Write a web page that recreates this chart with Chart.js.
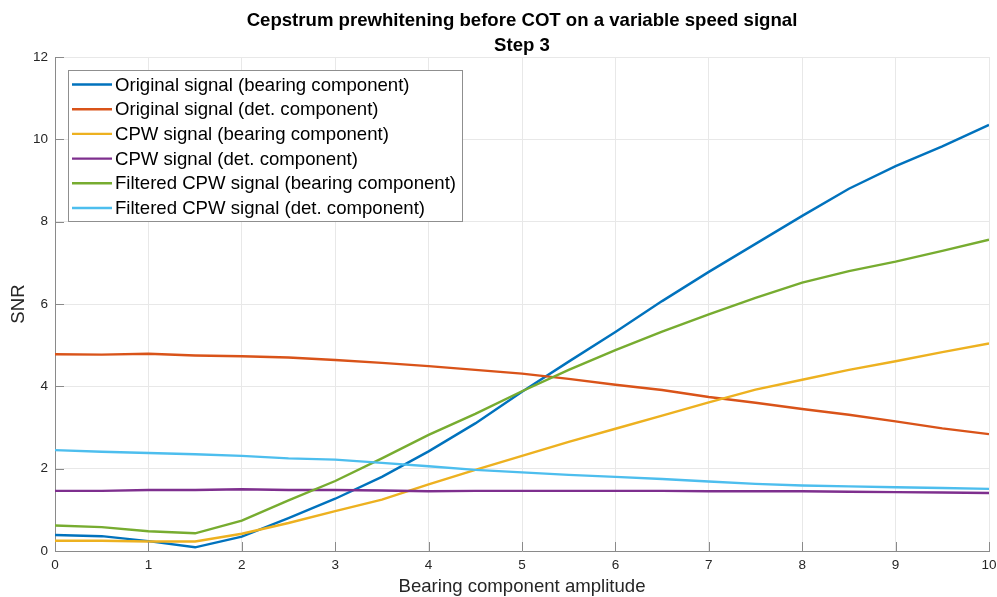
<!DOCTYPE html>
<html>
<head>
<meta charset="utf-8">
<title>Cepstrum prewhitening - Step 3</title>
<script src="https://cdn.jsdelivr.net/npm/chart.js@4"></script>
<style>
  html, body { margin: 0; padding: 0; background: #fff; }
  canvas { display: block; }
</style>
</head>
<body>
<canvas id="snrChart" width="997" height="597"></canvas>
<script>
// bearing component amplitude (x axis)
var amplitude = [0, 0.5, 1, 1.5, 2, 2.5, 3, 3.5, 4, 4.5, 5, 5.5, 6, 6.5, 7, 7.5, 8, 8.5, 9, 9.5, 10];

// SNR for each signal
var origBearing = [0.39, 0.36, 0.24, 0.09, 0.35, 0.80, 1.27, 1.80, 2.42, 3.10, 3.87, 4.60, 5.32, 6.07, 6.78, 7.46, 8.14, 8.80, 9.35, 9.83, 10.35];
var origDet     = [4.78, 4.77, 4.79, 4.75, 4.73, 4.70, 4.64, 4.57, 4.49, 4.40, 4.31, 4.18, 4.04, 3.91, 3.74, 3.60, 3.45, 3.31, 3.15, 2.98, 2.84];
var cpwBearing  = [0.25, 0.25, 0.23, 0.23, 0.42, 0.68, 0.97, 1.25, 1.62, 1.97, 2.31, 2.65, 2.97, 3.29, 3.61, 3.92, 4.16, 4.40, 4.61, 4.83, 5.04];
var cpwDet      = [1.46, 1.46, 1.48, 1.48, 1.50, 1.48, 1.48, 1.47, 1.45, 1.46, 1.46, 1.46, 1.46, 1.46, 1.45, 1.45, 1.45, 1.44, 1.43, 1.42, 1.41];
var filtBearing = [0.62, 0.58, 0.48, 0.43, 0.74, 1.23, 1.70, 2.25, 2.82, 3.33, 3.88, 4.40, 4.88, 5.33, 5.75, 6.15, 6.52, 6.80, 7.03, 7.29, 7.56];
var filtDet     = [2.45, 2.41, 2.38, 2.35, 2.31, 2.25, 2.22, 2.14, 2.06, 1.97, 1.91, 1.85, 1.80, 1.75, 1.69, 1.63, 1.59, 1.57, 1.55, 1.53, 1.51];

var seriesNames = [
    'Original signal (bearing component)',
    'Original signal (det. component)',
    'CPW signal (bearing component)',
    'CPW signal (det. component)',
    'Filtered CPW signal (bearing component)',
    'Filtered CPW signal (det. component)'
];
var seriesValues = [origBearing, origDet, cpwBearing, cpwDet, filtBearing, filtDet];
var seriesColors = ['#0072BD', '#D95319', '#EDB120', '#7E2F8E', '#77AC30', '#4DBEEE'];

var titleLines = ['Cepstrum prewhitening before COT on a variable speed signal', 'Step 3'];
var xTitle = 'Bearing component amplitude';
var yTitle = 'SNR';

var FONT = "'Liberation Sans', Arial, Helvetica, sans-serif";
var AXIS_GREY = '#8a8a8a';
var TEXT = '#262626';

var datasets = seriesValues.map(function(vals, i) {
    return {
        label: seriesNames[i],
        data: vals.map(function(v, k) { return {x: amplitude[k], y: v}; }),
        borderColor: seriesColors[i],
        backgroundColor: seriesColors[i],
        borderWidth: 2.4,
        pointRadius: 0,
        tension: 0,
        fill: false,
        order: seriesValues.length - i // later series on top
    };
});

// ticks pointing inward, titles and the boxed legend
var matlabDecor = {
    id: 'matlabDecor',
    afterDatasetsDraw: function(chart) {
        var ctx = chart.ctx;
        var area = chart.chartArea;
        var xs = chart.scales.x, ys = chart.scales.y;
        var tickLen = 9;

        ctx.save();
        ctx.strokeStyle = AXIS_GREY;
        ctx.lineWidth = 1;
        ctx.beginPath();
        xs.ticks.forEach(function(t) {
            var px = Math.round(xs.getPixelForValue(t.value)) + 0.5;
            ctx.moveTo(px, area.bottom);
            ctx.lineTo(px, area.bottom - tickLen);
        });
        ys.ticks.forEach(function(t) {
            var py = Math.round(ys.getPixelForValue(t.value)) + 0.5;
            ctx.moveTo(area.left, py);
            ctx.lineTo(area.left + tickLen, py);
        });
        ctx.stroke();

        // legend
        var lx = 68.5, ly = 70.5, lw = 394, lh = 151;
        ctx.fillStyle = '#fff';
        ctx.fillRect(lx, ly, lw, lh);
        ctx.strokeStyle = '#8f8f8f';
        ctx.strokeRect(lx, ly, lw, lh);
        ctx.font = '18.6px ' + FONT;
        ctx.textBaseline = 'middle';
        ctx.textAlign = 'left';
        chart.data.datasets.forEach(function(ds, i) {
            var rowY = 84.5 + i * 24.7;
            ctx.strokeStyle = ds.borderColor;
            ctx.lineWidth = 2.4;
            ctx.beginPath();
            ctx.moveTo(72, rowY);
            ctx.lineTo(112, rowY);
            ctx.stroke();
            ctx.fillStyle = '#000';
            ctx.fillText(ds.label, 115, rowY + 1);
        });

        // title
        var cx = (area.left + area.right) / 2;
        ctx.fillStyle = '#000';
        ctx.textAlign = 'center';
        ctx.font = 'bold 18.6px ' + FONT;
        ctx.fillText(titleLines[0], cx, 21);
        ctx.fillText(titleLines[1], cx, 46);

        // axis titles
        ctx.fillStyle = TEXT;
        ctx.font = '18.6px ' + FONT;
        ctx.fillText(xTitle, cx, 587);
        ctx.translate(19, (area.top + area.bottom) / 2);
        ctx.rotate(-Math.PI / 2);
        ctx.fillText(yTitle, 0, 0);
        ctx.restore();
    }
};

var ctx = document.getElementById('snrChart').getContext('2d');
var snrChart = new Chart(ctx, {
    type: 'line',
    data: { datasets: datasets },
    options: {
        responsive: false,
        animation: false,
        layout: { padding: { left: 0, right: 0, top: 57, bottom: 0 } },
        plugins: {
            legend: { display: false },
            tooltip: { enabled: false }
        },
        scales: {
            x: {
                type: 'linear',
                min: 0,
                max: 10,
                afterFit: function(scale) {
                    scale.height = 46;
                    scale.paddingRight = 8;
                },
                grid: { color: '#e8e8e8', drawTicks: false },
                border: { display: true, color: AXIS_GREY, width: 1 },
                ticks: {
                    stepSize: 1,
                    padding: 6,
                    color: TEXT,
                    maxRotation: 0,
                    font: { family: FONT, size: 13.5 }
                }
            },
            y: {
                min: 0,
                max: 12,
                afterFit: function(scale) { scale.width = 55; },
                grid: { color: '#e8e8e8', drawTicks: false },
                border: { display: true, color: AXIS_GREY, width: 1 },
                ticks: {
                    stepSize: 2,
                    padding: 7,
                    color: TEXT,
                    font: { family: FONT, size: 13.5 }
                }
            }
        }
    },
    plugins: [matlabDecor]
});
</script>
</body>
</html>
